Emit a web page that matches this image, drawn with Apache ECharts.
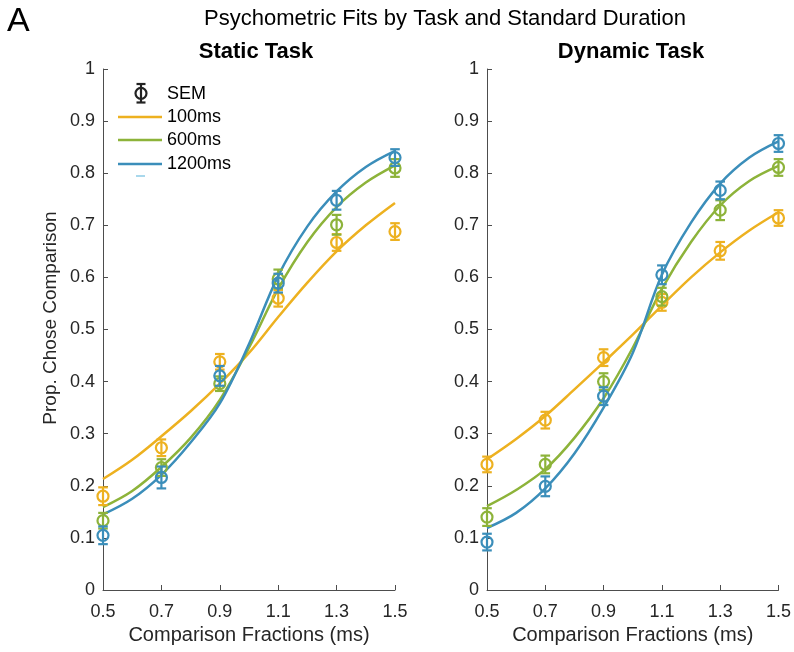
<!DOCTYPE html>
<html>
<head>
<meta charset="utf-8">
<script src="https://cdn.jsdelivr.net/npm/echarts@6/dist/echarts.min.js"></script>
<style>
  html, body { margin: 0; padding: 0; background: #fff; }
  #chart { width: 794px; height: 652px; }
</style>
</head>
<body>
<div id="chart"></div>
<script>
// Comparison levels where the proportions were measured
const comparisonX = [0.5, 0.7, 0.9, 1.1, 1.3, 1.5];
// Points at which the fitted psychometric curves are evaluated
const fitX = [0.5, 0.6, 0.7, 0.8, 0.9, 1.0, 1.1, 1.2, 1.3, 1.4, 1.5];

const durations = ['100ms', '600ms', '1200ms'];
const durationColors = ['#EDB120', '#8DB33A', '#3B8EBA'];

// Static task: mean proportion and SEM per standard duration
const static100 = [0.180, 0.273, 0.438, 0.560, 0.667, 0.688];
const static600 = [0.133, 0.235, 0.396, 0.597, 0.701, 0.810];
const static1200 = [0.105, 0.216, 0.411, 0.589, 0.748, 0.830];
const staticSem100 = [0.017, 0.016, 0.015, 0.016, 0.016, 0.016];
const staticSem600 = [0.015, 0.016, 0.014, 0.018, 0.019, 0.017];
const staticSem1200 = [0.017, 0.021, 0.019, 0.018, 0.018, 0.016];

// Static task: fitted curves
const staticFit100 = [0.213, 0.250, 0.295, 0.343, 0.396, 0.455, 0.524, 0.590, 0.650, 0.700, 0.743];
const staticFit600 = [0.159, 0.190, 0.236, 0.292, 0.365, 0.465, 0.578, 0.668, 0.735, 0.782, 0.815];
const staticFit1200 = [0.145, 0.175, 0.221, 0.283, 0.358, 0.472, 0.603, 0.698, 0.765, 0.812, 0.843];

// Dynamic task: mean proportion and SEM per standard duration
const dynamic100 = [0.241, 0.326, 0.446, 0.552, 0.651, 0.714];
const dynamic600 = [0.140, 0.241, 0.400, 0.563, 0.729, 0.811];
const dynamic1200 = [0.092, 0.199, 0.372, 0.605, 0.767, 0.857];
const dynamicSem100 = [0.015, 0.016, 0.016, 0.016, 0.017, 0.015];
const dynamicSem600 = [0.017, 0.017, 0.016, 0.017, 0.019, 0.016];
const dynamicSem1200 = [0.016, 0.019, 0.017, 0.018, 0.017, 0.016];

// Dynamic task: fitted curves
const dynamicFit100 = [0.251, 0.290, 0.334, 0.385, 0.437, 0.490, 0.546, 0.600, 0.648, 0.690, 0.725];
const dynamicFit600 = [0.161, 0.192, 0.232, 0.292, 0.368, 0.465, 0.578, 0.668, 0.738, 0.785, 0.814];
const dynamicFit1200 = [0.119, 0.148, 0.195, 0.262, 0.350, 0.455, 0.605, 0.705, 0.780, 0.830, 0.861];

const FONT = '"Liberation Sans", Arial, Helvetica, sans-serif';
const AXIS_COLOR = '#262626';

function zip(xs, ys) { return xs.map((x, i) => [x, ys[i]]); }
function zip3(xs, ys, es) { return xs.map((x, i) => [x, ys[i], es[i]]); }

// Hollow circle with a vertical SEM bar and caps
function renderErrorPoint(params, api) {
  const x = api.value(0), y = api.value(1), e = api.value(2);
  const c = api.coord([x, y]);
  const hi = api.coord([x, y + e]);
  const lo = api.coord([x, y - e]);
  const color = api.visual('color');
  const st = { stroke: color, lineWidth: 2.2, fill: null };
  const cap = 4.8;
  return {
    type: 'group',
    children: [
      { type: 'line', shape: { x1: c[0], y1: lo[1], x2: c[0], y2: hi[1] }, style: st },
      { type: 'line', shape: { x1: c[0] - cap, y1: hi[1], x2: c[0] + cap, y2: hi[1] }, style: st },
      { type: 'line', shape: { x1: c[0] - cap, y1: lo[1], x2: c[0] + cap, y2: lo[1] }, style: st },
      { type: 'circle', shape: { cx: c[0], cy: c[1], r: 5.5 }, style: st }
    ]
  };
}

function xAxisFor(gridIndex) {
  return {
    type: 'value', gridIndex: gridIndex, min: 0.5, max: 1.5, interval: 0.2,
    name: 'Comparison Fractions (ms)', nameLocation: 'middle', nameGap: 35,
    nameTextStyle: { fontFamily: FONT, fontSize: 20, color: AXIS_COLOR },
    axisLine: { lineStyle: { color: '#4d4d4d', width: 1 } },
    axisTick: { inside: true, length: 5, lineStyle: { color: '#4d4d4d' } },
    axisLabel: { fontFamily: FONT, fontSize: 18, color: AXIS_COLOR, margin: 13,
      formatter: v => v.toFixed(1) },
    splitLine: { show: false }
  };
}
function yAxisFor(gridIndex) {
  return {
    type: 'value', gridIndex: gridIndex, min: 0, max: 1, interval: 0.1,
    axisLine: { show: true, lineStyle: { color: '#4d4d4d', width: 1 } },
    axisTick: { show: true, inside: true, length: 5, lineStyle: { color: '#4d4d4d' } },
    axisLabel: { fontFamily: FONT, fontSize: 18, color: AXIS_COLOR, margin: 8,
      formatter: v => (v === 0 || v === 1) ? String(v) : v.toFixed(1) },
    splitLine: { show: false }
  };
}

const panels = [
  { fits: [staticFit100, staticFit600, staticFit1200],
    means: [static100, static600, static1200],
    sems: [staticSem100, staticSem600, staticSem1200] },
  { fits: [dynamicFit100, dynamicFit600, dynamicFit1200],
    means: [dynamic100, dynamic600, dynamic1200],
    sems: [dynamicSem100, dynamicSem600, dynamicSem1200] }
];

const series = [];
panels.forEach((p, gi) => {
  durations.forEach((d, k) => {
    series.push({
      name: d, type: 'line', xAxisIndex: gi, yAxisIndex: gi,
      data: zip(fitX, p.fits[k]), smooth: 0.35, showSymbol: false,
      lineStyle: { color: durationColors[k], width: 2.5 }, silent: true, z: 2
    });
  });
  durations.forEach((d, k) => {
    series.push({
      name: d + ' SEM', type: 'custom', xAxisIndex: gi, yAxisIndex: gi,
      data: zip3(comparisonX, p.means[k], p.sems[k]),
      renderItem: renderErrorPoint, itemStyle: { color: durationColors[k] },
      silent: true, z: 3
    });
  });
});

// Legend in the upper left of the static panel
const legendX = 118, legendTextX = 167;
const legendRows = [117, 140, 164];
const legendItems = [];
legendItems.push(
  { type: 'line', shape: { x1: 141, y1: 84, x2: 141, y2: 102.5 }, style: { stroke: '#222', lineWidth: 2.2 } },
  { type: 'line', shape: { x1: 136.5, y1: 84, x2: 145.5, y2: 84 }, style: { stroke: '#222', lineWidth: 2.2 } },
  { type: 'line', shape: { x1: 136.5, y1: 102.5, x2: 145.5, y2: 102.5 }, style: { stroke: '#222', lineWidth: 2.2 } },
  { type: 'circle', shape: { cx: 141, cy: 93.3, r: 5.5 }, style: { stroke: '#222', lineWidth: 2.2, fill: null } },
  { type: 'text', x: legendTextX, y: 93.8, style: { text: 'SEM', font: '18px ' + FONT, fill: '#000', textVerticalAlign: 'middle' } }
);
durations.forEach((d, k) => {
  legendItems.push(
    { type: 'line', shape: { x1: legendX, y1: legendRows[k], x2: legendX + 44, y2: legendRows[k] },
      style: { stroke: durationColors[k], lineWidth: 2.5 } },
    { type: 'text', x: legendTextX, y: legendRows[k] + 0.5,
      style: { text: d, font: '18px ' + FONT, fill: '#000', textVerticalAlign: 'middle' } }
  );
});
legendItems.push({ type: 'line', shape: { x1: 136, y1: 176, x2: 145, y2: 176 },
  style: { stroke: '#8ccbe6', lineWidth: 1.5 } });

const chart = echarts.init(document.getElementById('chart'), null, { renderer: 'canvas' });
chart.setOption({
  backgroundColor: '#ffffff',
  animation: false,
  grid: [
    { left: 103, top: 69, width: 292, height: 521 },
    { left: 487, top: 69, width: 292, height: 521 }
  ],
  xAxis: [xAxisFor(0), xAxisFor(1)],
  yAxis: [yAxisFor(0), yAxisFor(1)],
  series: series,
  graphic: [
    { type: 'text', x: 7, y: 5, style: { text: 'A', font: '34px ' + FONT, fill: '#000' } },
    { type: 'text', x: 445, y: 8, style: { text: 'Psychometric Fits by Task and Standard Duration',
      font: '22px ' + FONT, fill: '#000', textAlign: 'center' } },
    { type: 'text', x: 256, y: 41, style: { text: 'Static Task',
      font: 'bold 22px ' + FONT, fill: '#000', textAlign: 'center' } },
    { type: 'text', x: 631, y: 41, style: { text: 'Dynamic Task',
      font: 'bold 22px ' + FONT, fill: '#000', textAlign: 'center' } },
    { type: 'text', x: 51, y: 318, rotation: Math.PI / 2,
      style: { text: 'Prop. Chose Comparison', font: '19px ' + FONT, fill: AXIS_COLOR,
        textAlign: 'center', textVerticalAlign: 'middle' } },
    { type: 'group', children: legendItems }
  ]
});
</script>
</body>
</html>
